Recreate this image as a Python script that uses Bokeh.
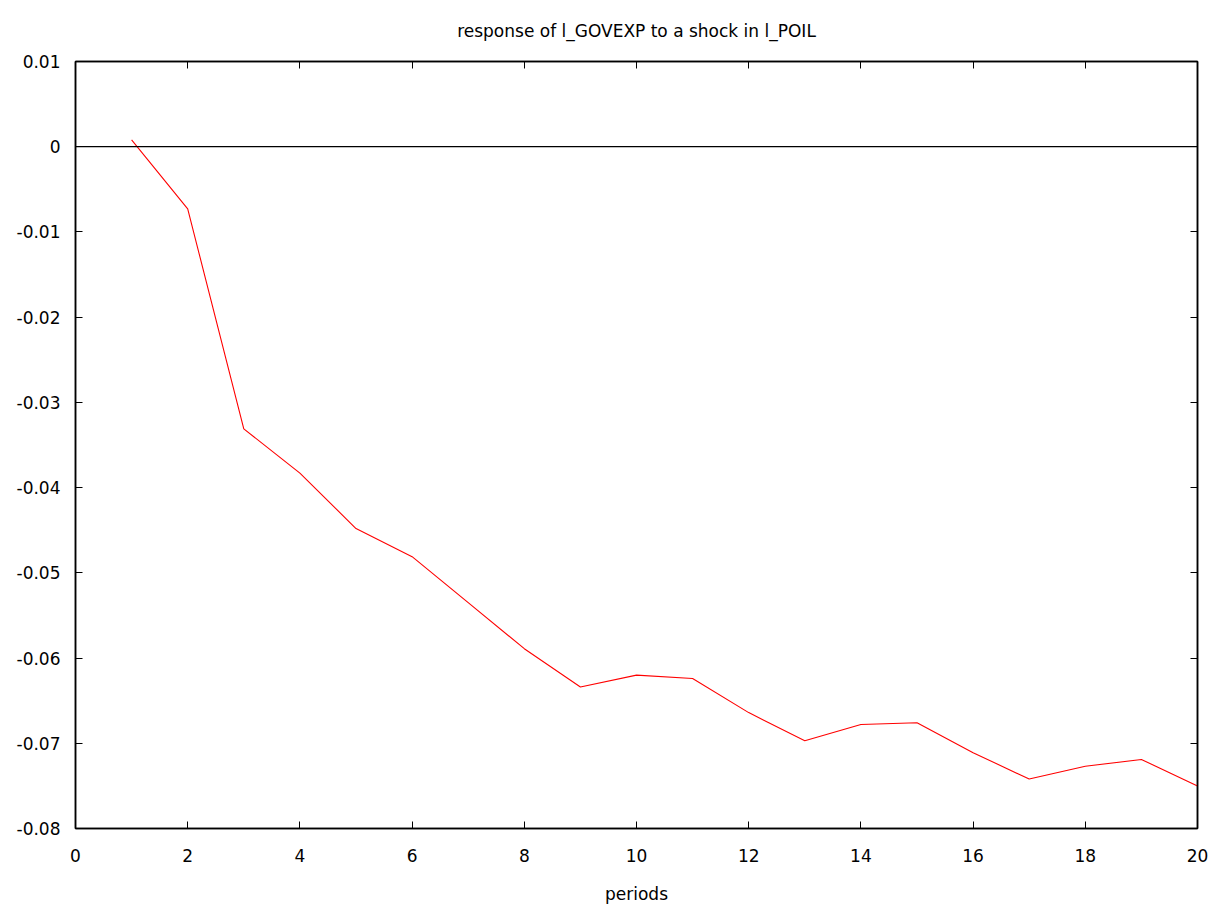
from bokeh.plotting import figure
from bokeh.models import LinearAxis, Span, Range1d, FixedTicker
from bokeh.embed import file_html
from bokeh.resources import INLINE

periods = list(range(1, 21))
response = [0.0008, -0.0073, -0.0331, -0.0383, -0.0448, -0.0481, -0.0535, -0.0589,
            -0.0634, -0.0620, -0.0624, -0.0664, -0.0697, -0.0678, -0.0676, -0.0711,
            -0.0742, -0.0727, -0.0719, -0.0750]
x_ticks = list(range(0, 21, 2))
y_ticks = [0.01, 0, -0.01, -0.02, -0.03, -0.04, -0.05, -0.06, -0.07, -0.08]
y_tick_labels = {0.01: "0.01", 0: "0", -0.01: "-0.01", -0.02: "-0.02", -0.03: "-0.03",
                 -0.04: "-0.04", -0.05: "-0.05", -0.06: "-0.06", -0.07: "-0.07", -0.08: "-0.08"}
title_text = "response of l_GOVEXP to a shock in l_POIL"

FONT = "DejaVu Sans"
FS = "17px"

p = figure(frame_width=1122, frame_height=767, output_backend="svg", toolbar_location=None,
           x_range=Range1d(0, 20), y_range=Range1d(-0.08, 0.01),
           x_axis_location=None, y_axis_location=None,
           min_border_left=75, min_border_right=14, min_border_top=61, min_border_bottom=77)
p.title.text = title_text
p.title.align = "center"
p.title.vertical_align = "top"
p.title.text_font = FONT
p.title.text_font_size = FS
p.title.text_font_style = "normal"
p.title.text_color = "black"
p.title.standoff = 38
p.grid.visible = False
p.outline_line_color = "black"
p.outline_line_width = 1.5
p.background_fill_color = "white"
p.border_fill_color = "white"

def mk_axis(labels=True, ticks=None, overrides=None):
    ax = LinearAxis(ticker=FixedTicker(ticks=ticks))
    ax.major_tick_in = 7
    ax.major_tick_out = 0
    ax.minor_tick_in = 0
    ax.minor_tick_out = 0
    ax.axis_line_color = "black"
    ax.axis_line_width = 1.5
    ax.major_tick_line_color = "black"
    ax.major_label_text_font = FONT
    ax.major_label_text_font_size = FS
    ax.major_label_text_color = "black"
    if overrides:
        ax.major_label_overrides = overrides
    if not labels:
        ax.major_label_text_alpha = 0
        ax.major_label_text_font_size = "0px"
    return ax

xb = mk_axis(True, x_ticks)
xb.major_label_standoff = 20
xb.axis_label = "periods"
xb.axis_label_text_font = FONT
xb.axis_label_text_font_size = FS
xb.axis_label_text_font_style = "normal"
xb.axis_label_text_color = "black"
xb.axis_label_standoff = 19
p.add_layout(xb, "below")

yl = mk_axis(True, y_ticks, y_tick_labels)
yl.major_label_standoff = 15
p.add_layout(yl, "left")

p.add_layout(mk_axis(False, x_ticks), "above")
p.add_layout(mk_axis(False, y_ticks), "right")

p.add_layout(Span(location=0, dimension="width", line_color="black", line_width=1.2))
p.line(periods, response, line_color="red", line_width=1.1)

open("out.html", "w").write(file_html(p, INLINE))
